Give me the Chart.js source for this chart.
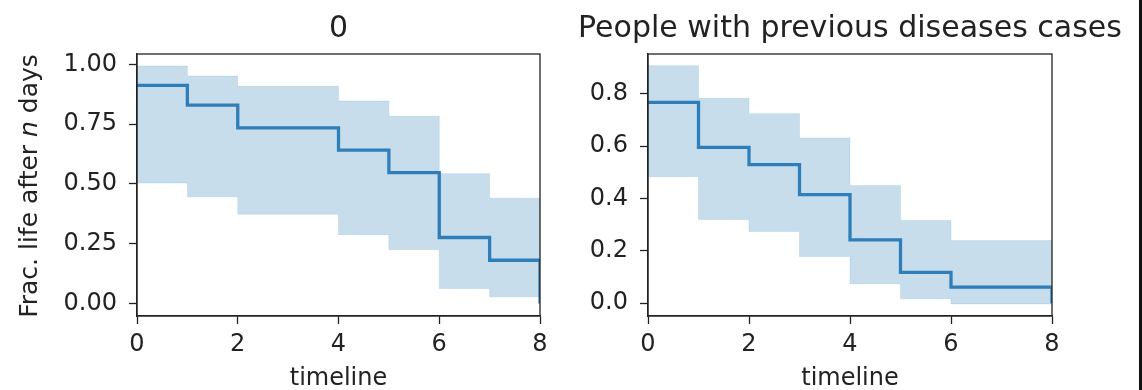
<!DOCTYPE html>
<html>
<head>
<meta charset="utf-8">
<script src="https://cdn.jsdelivr.net/npm/chart.js@4"></script>
<style>
  body { margin: 0; background: #fff; }
  #wrap { position: relative; width: 1142px; height: 390px; overflow: hidden; background: #fff; }
  #left { position: absolute; left: 0; top: 0; }
  #right { position: absolute; left: 560px; top: 0; }
  #edge { position: absolute; left: 1139px; top: 0; width: 3px; height: 390px; background: #111; }
</style>
</head>
<body>
<div id="wrap">
  <canvas id="left" width="580" height="390"></canvas>
  <canvas id="right" width="582" height="390"></canvas>
  <div id="edge"></div>
</div>
<script>
// panel 1: "0"
const timesA = [0, 1, 2, 4, 5, 6, 7, 8];
const survA  = [0.912, 0.829, 0.734, 0.641, 0.547, 0.276, 0.181, 0.0];
const upperA = [0.993, 0.951, 0.908, 0.847, 0.783, 0.543, 0.440, 0.440];
const lowerA = [0.504, 0.446, 0.373, 0.288, 0.226, 0.063, 0.028, 0.028];
const yTicksA = [0, 0.25, 0.5, 0.75, 1.0];

// panel 2: people with previous diseases
const timesB = [0, 1, 2, 3, 4, 5, 6, 8];
const survB  = [0.767, 0.595, 0.529, 0.415, 0.242, 0.118, 0.061, 0.0];
const upperB = [0.907, 0.783, 0.724, 0.631, 0.450, 0.316, 0.239, 0.239];
const lowerB = [0.483, 0.320, 0.274, 0.178, 0.074, 0.017, -0.003, -0.003];
const yTicksB = [0, 0.2, 0.4, 0.6, 0.8];

const xTicks = [0, 2, 4, 6, 8];

const FONT = 'DejaVu Sans';
const INK = '#222';

// box around the axes, panel title, and y label with italic n
const framePlugin = {
    id: 'frame',
    afterDraw(chart, args, opts) {
        const ctx = chart.ctx;
        const a = chart.chartArea;
        ctx.save();
        ctx.strokeStyle = INK;
        ctx.lineWidth = 1.3;
        ctx.strokeRect(a.left, a.top, a.right - a.left, a.bottom - a.top);

        ctx.fillStyle = INK;
        ctx.font = '30px "' + FONT + '"';
        ctx.textAlign = 'center';
        ctx.textBaseline = 'middle';
        ctx.fillText(opts.title, (a.left + a.right) / 2, 29);

        if (opts.ylabel) {
            const parts = opts.ylabel;
            let total = 0;
            parts.forEach(p => {
                ctx.font = (p.italic ? 'italic ' : '') + '25px "' + FONT + '"';
                p.w = ctx.measureText(p.text).width;
                total += p.w;
            });
            ctx.translate(37, (a.top + a.bottom) / 2 + 1);
            ctx.rotate(-Math.PI / 2);
            ctx.textAlign = 'left';
            ctx.textBaseline = 'alphabetic';
            let x = -total / 2;
            parts.forEach(p => {
                ctx.font = (p.italic ? 'italic ' : '') + '25px "' + FONT + '"';
                ctx.fillText(p.text, x, 0);
                x += p.w;
            });
        }
        ctx.restore();
    }
};

function makeChart(id, times, surv, upper, lower, yTicks, yMin, yMax, decimals, title, ylabel, axisWidth, padRight) {
    const pts = arr => arr.map((v, i) => ({x: times[i], y: v}));
    return new Chart(document.getElementById(id), {
        type: 'line',
        data: {
            datasets: [{
                data: pts(upper),
                stepped: true,
                borderColor: 'rgba(31,119,180,0.12)',
                borderWidth: 1,
                backgroundColor: 'rgba(31,119,180,0.25)',
                fill: '+1',
                pointRadius: 0
            }, {
                data: pts(lower),
                stepped: true,
                borderColor: 'rgba(31,119,180,0.12)',
                borderWidth: 1,
                fill: false,
                pointRadius: 0
            }, {
                data: pts(surv),
                stepped: true,
                borderColor: 'rgb(52,128,188)',
                borderWidth: 3.3,
                fill: false,
                pointRadius: 0
            }]
        },
        options: {
            responsive: false,
            animation: false,
            layout: { padding: { top: 54, right: padRight, left: 0, bottom: 0 } },
            plugins: {
                legend: { display: false },
                tooltip: { enabled: false },
                frame: { title: title, ylabel: ylabel }
            },
            scales: {
                x: {
                    type: 'linear',
                    min: 0,
                    max: 8,
                    afterBuildTicks: s => { s.ticks = xTicks.map(v => ({value: v})); },
                    afterFit: s => { s.height = 74; },
                    grid: { drawOnChartArea: false, tickLength: 8, tickColor: INK, tickWidth: 1.3 },
                    border: { color: INK, width: 1.3 },
                    ticks: { color: INK, padding: 6, font: { family: FONT, size: 24 }, maxRotation: 0 },
                    title: { display: true, text: 'timeline', color: INK, padding: { top: 0, bottom: -3 }, font: { family: FONT, size: 24 } }
                },
                y: {
                    min: yMin,
                    max: yMax,
                    afterBuildTicks: s => { s.ticks = yTicks.map(v => ({value: v})); },
                    afterFit: s => { s.width = axisWidth; },
                    grid: { drawOnChartArea: false, tickLength: 8, tickColor: INK, tickWidth: 1.3 },
                    border: { color: INK, width: 1.3 },
                    ticks: {
                        color: INK,
                        padding: 12,
                        font: { family: FONT, size: 24 },
                        callback: v => Number(v).toFixed(decimals)
                    }
                }
            }
        },
        plugins: [framePlugin]
    });
}

makeChart('left', timesA, survA, upperA, lowerA, yTicksA, -0.052, 1.043, 2, '0',
    [{text: 'Frac. life after '}, {text: 'n', italic: true}, {text: ' days'}], 137, 40);
makeChart('right', timesB, survB, upperB, lowerB, yTicksB, -0.049, 0.952, 1,
    'People with previous diseases cases', null, 88, 90);
</script>
</body>
</html>
